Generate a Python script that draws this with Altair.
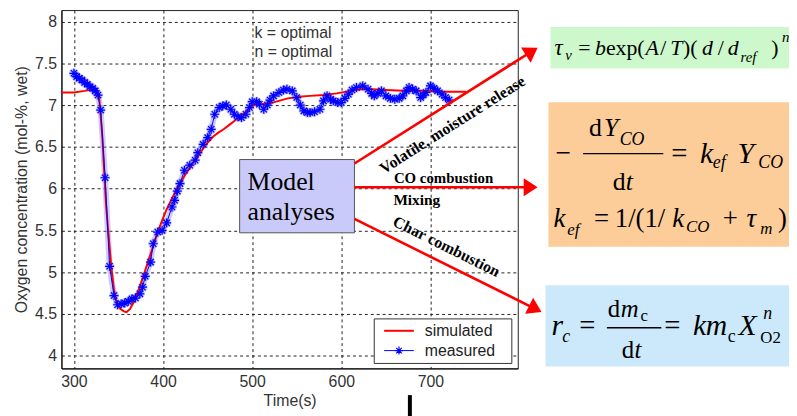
import math
import altair as alt
import pandas as pd

# ---------------- data ----------------
sim_time = [286, 300, 312, 322, 326, 328, 330, 332, 334, 336, 338, 340, 342, 345, 348,
            352, 356, 359, 363, 367, 371, 375, 379, 383, 388, 394, 399, 404, 410, 415,
            420, 425, 430, 435, 440, 445, 450, 456, 462, 468, 474, 480, 486, 492, 497,
            502, 510, 520, 530, 540, 552, 565, 580, 595, 610, 622, 635, 650, 670, 690,
            710, 740]
sim_o2 = [7.15, 7.15, 7.17, 7.19, 7.18, 7.12, 6.88, 6.60, 6.20, 5.82, 5.55, 5.30, 5.05, 4.78, 4.63,
          4.56, 4.53, 4.52, 4.56, 4.64, 4.74, 4.86, 4.99, 5.12, 5.28, 5.48, 5.62, 5.75, 5.88, 5.99,
          6.08, 6.17, 6.25, 6.33, 6.40, 6.48, 6.55, 6.62, 6.67, 6.71, 6.76, 6.81, 6.86, 6.91, 6.96,
          7.00, 7.01, 7.02, 7.05, 7.08, 7.10, 7.11, 7.12, 7.14, 7.17, 7.19, 7.19, 7.18, 7.17, 7.17,
          7.16, 7.16]

meas_time = [300, 303, 306, 309, 312, 315, 318, 321, 324, 327, 330, 335, 340, 345, 349,
             353, 357, 361, 365, 369, 374, 377, 380, 386, 389, 394, 399, 404, 410, 413,
             416, 419, 424, 430, 436, 439, 445, 450, 454, 458, 463, 467, 471, 476, 480,
             484, 488, 493, 497, 500, 505, 508, 513, 517, 520, 524, 530, 535, 539, 545,
             550, 554, 558, 562, 565, 570, 576, 580, 584, 588, 591, 596, 600, 604, 608,
             612, 617, 624, 630, 634, 637, 641, 645, 650, 655, 660, 665, 669, 673, 676,
             680, 684, 689, 692, 695, 700, 704, 708, 713, 717, 721]
meas_o2 = [7.38, 7.34, 7.32, 7.30, 7.27, 7.25, 7.22, 7.20, 7.17, 7.12, 6.94, 6.13, 5.07, 4.72, 4.61,
           4.62, 4.63, 4.65, 4.68, 4.69, 4.74, 4.82, 4.95, 5.12, 5.34, 5.48, 5.50, 5.59, 5.78, 5.86,
           5.97, 6.06, 6.22, 6.28, 6.34, 6.43, 6.53, 6.61, 6.71, 6.89, 6.97, 6.99, 7.00, 6.95, 6.89,
           6.86, 6.85, 6.89, 6.97, 7.04, 7.04, 7.01, 6.95, 7.00, 7.06, 7.11, 7.15, 7.18, 7.19, 7.17,
           7.09, 7.00, 6.93, 6.91, 6.91, 6.92, 6.95, 7.05, 7.11, 7.07, 7.05, 7.03, 7.03, 7.08, 7.13,
           7.18, 7.21, 7.23, 7.19, 7.14, 7.11, 7.14, 7.17, 7.11, 7.08, 7.07, 7.08, 7.11, 7.17, 7.21,
           7.19, 7.17, 7.09, 7.12, 7.15, 7.23, 7.20, 7.17, 7.13, 7.09, 7.06]

x_ticks = [300, 400, 500, 600, 700]
y_ticks = [4, 4.5, 5, 5.5, 6, 6.5, 7, 7.5, 8]
series_names = ["simulated", "measured"]

# ---------------- layout ----------------
W, H = 461, 362          # plot area
OX, OY = 62, 8           # page position of plot origin
PAD = {"left": OX - 8, "top": OY - 8, "right": 789 - (OX - 8) - W, "bottom": 408 - H}

RED = "#ff0000"
BLUE = "#0000ff"
ASTER = "M-1,0L1,0M0,-1L0,1M-0.7,-0.7L0.7,0.7M-0.7,0.7L0.7,-0.7"
HEAD = "M0,0L0.65,1L-0.65,1Z"
SERIF = "Liberation Serif"
SANS = "Liberation Sans"

sim = pd.DataFrame({"time": sim_time, "o2": sim_o2, "series": series_names[0]})
meas = pd.DataFrame({"time": meas_time, "o2": meas_o2, "series": series_names[1]})
one = pd.DataFrame({"k": [0]})

xs = alt.Scale(domain=[286, 798], nice=False, zero=False)
ys = alt.Scale(domain=[3.848, 8.137], nice=False, zero=False)
xenc = alt.X("time:Q", scale=xs,
             axis=alt.Axis(values=x_ticks, format="d", title="Time(s)", titlePadding=3))
yenc = alt.Y("o2:Q", scale=ys,
             axis=alt.Axis(values=y_ticks, format="~g",
                           title="Oxygen concentration (mol-%, wet)", titlePadding=5))


def px(x):
    return x - OX


def py(y):
    return y - OY


def box(x1, y1, x2, y2, fill, stroke=None, sw=1):
    kw = dict(fill=fill)
    if stroke:
        kw.update(stroke=stroke, strokeWidth=sw)
    return alt.Chart(one).mark_rect(**kw).encode(
        x=alt.value(px(x1)), x2=alt.value(px(x2)), y=alt.value(py(y1)), y2=alt.value(py(y2)))


def seg(x1, y1, x2, y2, color, sw):
    return alt.Chart(one).mark_rule(color=color, strokeWidth=sw).encode(
        x=alt.value(px(x1)), x2=alt.value(px(x2)), y=alt.value(py(y1)), y2=alt.value(py(y2)))


def txt(x, y, s, size, font=SERIF, style="normal", weight="normal", align="left",
        baseline="alphabetic", angle=0, color="#000000"):
    return alt.Chart(one).mark_text(font=font, fontSize=size, fontStyle=style, fontWeight=weight,
                                    align=align, baseline=baseline, angle=angle, color=color).encode(
        x=alt.value(px(x)), y=alt.value(py(y)), text=alt.value(s))


def arrow(x1, y1, x2, y2):
    dx, dy = x2 - x1, y2 - y1
    L = math.hypot(dx, dy)
    ux, uy = dx / L, dy / L
    ang = math.degrees(math.atan2(ux, -uy)) % 360
    shaft = seg(x1, y1, x2 - 10 * ux, y2 - 10 * uy, RED, 2.6)
    head = alt.Chart(one).mark_point(shape=HEAD, size=784, filled=True, color=RED, opacity=1,
                                     angle=ang).encode(x=alt.value(px(x2)), y=alt.value(py(y2)))
    return [shaft, head]


# ---------------- data layers ----------------
red_line = alt.Chart(sim).mark_line(color=RED, strokeWidth=2).encode(x=xenc, y=yenc)
halo = alt.Chart(meas).mark_line(color="#8080ff", strokeWidth=6, opacity=0.4).encode(x=xenc, y=yenc)
halo_pts = alt.Chart(meas).mark_point(shape=ASTER, size=100, filled=False, color="#8c8cff",
                                      strokeWidth=3, opacity=0.5).encode(x=xenc, y=yenc)
blue_line = alt.Chart(meas).mark_line(color=BLUE, strokeWidth=1).encode(x=xenc, y=yenc)
blue_pts = alt.Chart(meas).mark_point(shape=ASTER, size=81, filled=False, color=BLUE,
                                      strokeWidth=1.2, opacity=1).encode(x=xenc, y=yenc)

layers = [halo, halo_pts, red_line, blue_line, blue_pts]

# text inside plot
layers += [
    txt(257, 31, "k = optimal", 16, font=SANS, baseline="middle", color="#333333"),
    txt(257, 50, "n = optimal", 16, font=SANS, baseline="middle", color="#333333"),
]

# legend box
layers += [
    box(378, 320, 517, 365, "#ffffff", "#333333", 1),
    seg(388, 332, 418, 332, RED, 2),
    seg(388, 352, 418, 352, BLUE, 1),
    alt.Chart(one).mark_point(shape=ASTER, size=64, filled=False, color=BLUE, strokeWidth=1.2,
                              opacity=1).encode(x=alt.value(px(403)), y=alt.value(py(352))),
    txt(429, 332, series_names[0], 16, font=SANS, baseline="middle", color="#222222"),
    txt(429, 352, series_names[1], 16, font=SANS, baseline="middle", color="#222222"),
]

# Model analyses box and arrows
layers += [
    box(242, 159, 358, 233, "#cacafa", "#555555", 1),
    txt(250, 190, "Model", 26),
    txt(250, 220, "analyses", 26),
]
layers += arrow(358, 163, 543, 46)
layers += arrow(358, 187, 543, 187)
layers += arrow(358, 219, 547, 313)
layers += [
    txt(457, 124, "Volatile, moisture release", 16, weight="bold", align="center",
        baseline="middle", angle=327.7),
    txt(448, 178, "CO combustion", 15, weight="bold", align="center", baseline="middle"),
    txt(421, 200, "Mixing", 15.5, weight="bold", align="center", baseline="middle"),
    txt(451, 247, "Char combustion", 16, weight="bold", align="center", baseline="middle",
        angle=26.4),
]

# equation boxes
layers += [
    box(556, 25, 820, 67, "#ccf8cc"),
    box(554, 101, 820, 247, "#fccc99"),
    box(551, 286, 820, 368, "#cce9fb"),
]
I = "italic"
# green: tau_v = b exp(A/T)(d/d_ref)^n
layers += [
    txt(560, 53, "τ", 23, style=I), txt(571, 58, "v", 15, style=I),
    txt(584, 53, "=", 22), txt(601, 53, "b", 22, style=I), txt(612, 53, "exp(", 22),
    txt(652, 53, "A", 22, style=I), txt(667, 53, "/", 22), txt(677, 53, "T", 22, style=I),
    txt(690, 53, ")(", 22), txt(709, 53, "d", 22, style=I), txt(725, 53, "/", 22),
    txt(735, 53, "d", 22, style=I), txt(748, 60, "ref", 15, style=I),
    txt(779, 53, ")", 22), txt(790, 40, "n", 15, style=I),
]
# orange: -dY_CO/dt = k_ef Y_CO ; k_ef = 1/(1/k_CO + tau_m)
layers += [
    txt(561, 161, "−", 28),
    seg(589, 153, 670, 153, "#000000", 1.4),
    txt(595, 135, "d", 26), txt(610, 135, "Y", 26, style=I), txt(626, 144, "CO", 18, style=I),
    txt(619, 190, "d", 26), txt(632, 190, "t", 26, style=I),
    txt(678, 162, "=", 29),
    txt(707, 162, "k", 30, style=I), txt(720, 168, "ef", 18, style=I),
    txt(745, 162, "Y", 30, style=I), txt(766, 168, "CO", 18, style=I),
    txt(559, 227, "k", 27, style=I), txt(573, 235, "ef", 17, style=I),
    txt(600, 227, "=", 27), txt(621, 227, "1/(1/", 27),
    txt(679, 227, "k", 27, style=I), txt(693, 232, "CO", 17, style=I),
    txt(730, 227, "+", 27), txt(754, 227, "τ", 27, style=I), txt(768, 234, "m", 17, style=I),
    txt(786, 227, ")", 27),
]
# blue: r_c = dm_c/dt = k m_c X_O2^n
layers += [
    txt(557, 336, "r", 30, style=I), txt(568, 343, "c", 18, style=I),
    txt(585, 336, "=", 29),
    seg(613, 329, 668, 329, "#000000", 1.4),
    txt(614, 318, "d", 25), txt(627, 318, "m", 25, style=I), txt(647, 322, "c", 17),
    txt(628, 360, "d", 25), txt(641, 360, "t", 25, style=I),
    txt(671, 336, "=", 29),
    txt(700, 336, "k", 30, style=I), txt(713, 336, "m", 30, style=I), txt(735, 343, "c", 18),
    txt(746, 336, "X", 30, style=I), txt(771, 320, "n", 18, style=I), txt(768, 344, "O2", 17),
]
# small black bar at the bottom
layers += [box(412, 397, 416, 420, "#000000")]

chart = alt.layer(*layers).properties(
    width=W, height=H, padding=PAD, autosize=alt.AutoSizeParams(type="none"),
    background="#ffffff",
).configure_view(stroke="#222222", strokeWidth=1).configure_axis(
    labelFont=SANS, labelFontSize=16, labelColor="#333333", labelPadding=5,
    titleFont=SANS, titleFontSize=16, titleFontWeight="normal", titleColor="#333333",
    ticks=False, domainColor="#000000", domainWidth=1,
    grid=True, gridColor="#222222", gridDash=[3, 3], gridWidth=1, gridOpacity=1,
    labelOverlap=False,
)

chart.save("out.html", embed_options={"renderer": "svg", "actions": False})
